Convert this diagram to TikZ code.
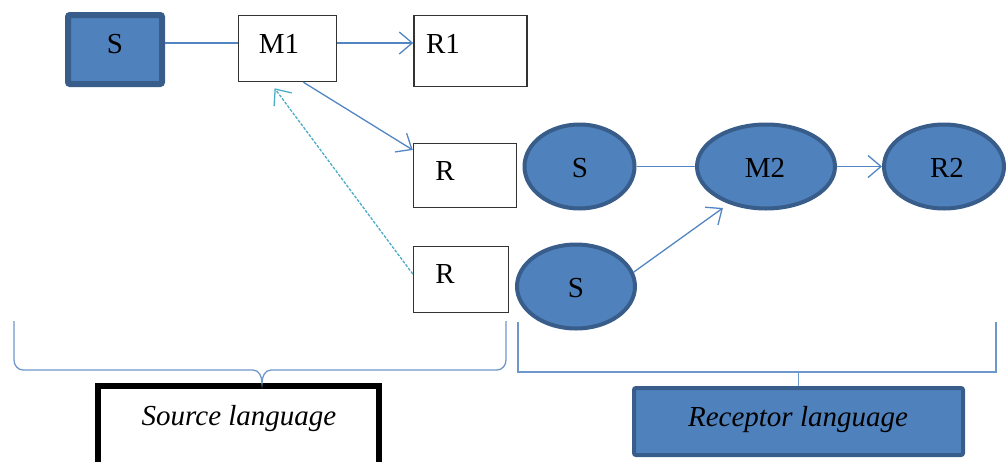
\documentclass[tikz,border=0pt]{standalone}
\usepackage{fontspec}
\setmainfont{Liberation Serif}
\usetikzlibrary{shapes.geometric,arrows.meta,calc}
\definecolor{accent}{HTML}{4F81BD}
\definecolor{accentdark}{HTML}{385D8A}
\definecolor{linkblue}{HTML}{5285C2}
\definecolor{bracecol}{HTML}{6E97CB}
\definecolor{dashcol}{HTML}{4BACC6}
\tikzset{
  lbl/.style={font=\fontsize{29}{31}\selectfont, inner sep=0pt},
  plainbox/.style={draw=black!80, line width=1.5pt, fill=white, inner sep=0pt},
  bluebox/.style={draw=accentdark, fill=accent, rounded corners=2pt, inner sep=0pt},
  blueell/.style={ellipse, draw=accentdark, fill=accent, line width=4pt, inner sep=0pt},
  link/.style={draw=linkblue, line width=1.3pt},
  arrowlink/.style={link, -{Straight Barb[length=13pt,width=22pt,line width=1.3pt]}},
  backlink/.style={draw=dashcol, line width=1.3pt, dash pattern=on 3pt off 1.5pt,
    -{Straight Barb[length=13pt,width=22pt,line width=1.3pt]}},
  bracket/.style={draw=bracecol, line width=1.3pt},
}
\begin{document}
\begin{tikzpicture}[x=1pt,y=-1pt]
\useasboundingbox (0,0) rectangle (1007,461);

% source side boxes
\node[bluebox, line width=6pt, minimum width=94pt, minimum height=69pt] (sbox) at (115,49.5) {};
\node[lbl] (slabel) at (115,44) {S};
\node[plainbox, minimum width=98pt, minimum height=66pt] (m1) at (287.5,48.5) {};
\node[lbl] (m1label) at (279,44) {M1};
\node[plainbox, minimum width=113pt, minimum height=71pt] (r1) at (470.5,51) {};
\node[lbl] (r1label) at (443,44) {R1};
\node[plainbox, minimum width=103pt, minimum height=64pt] (ru) at (465,175.5) {};
\node[lbl] (rulabel) at (445,171) {R};
\node[plainbox, minimum width=95pt, minimum height=66pt] (rl) at (461,279.5) {};
\node[lbl] (rllabel) at (445,274) {R};

% receptor side ellipses
\node[blueell, minimum width=110pt, minimum height=84pt] (su) at (579.5,166.5) {};
\node[lbl] (sulabel) at (580,168) {S};
\node[blueell, minimum width=138pt, minimum height=84pt] (m2) at (766,166.5) {};
\node[lbl] (m2label) at (765,168) {M2};
\node[blueell, minimum width=120pt, minimum height=84pt] (r2) at (944,166.5) {};
\node[lbl] (r2label) at (947,168) {R2};
\node[blueell, minimum width=118pt, minimum height=84pt] (sl) at (576,286.5) {};
\node[lbl] (sllabel) at (576,288) {S};

% language boxes
\node[draw=black, line width=6pt, fill=white, inner sep=0pt, minimum width=281pt, minimum height=84pt] (srclang) at (238.5,428) {};
\node[lbl, font=\fontsize{29}{31}\selectfont\itshape] (srctext) at (239,419) {Source language};
\node[bluebox, line width=4pt, minimum width=329pt, minimum height=67pt] (reclang) at (798.5,421.5) {};
\node[lbl, font=\fontsize{29}{31}\selectfont\itshape] (rectext) at (798,420) {Receptor language};

% connectors
\draw[link] (sbox.east |- 0,43) -- (m1.west |- 0,43);
\draw[arrowlink] (m1.east |- 0,43) -- (r1.west |- 0,43);
\draw[arrowlink] ($(m1.south west)!0.66!(m1.south east)$) -- ($(ru.north west)!0.11!(ru.south west)$);
\draw[backlink] (rl.west |- rllabel) -- ($(m1.south west)!0.37!(m1.south east)+(0,6)$);
\draw[link] (su.east) -- (m2.west);
\draw[arrowlink] (m2.east) -- (r2.west);
\draw[arrowlink, shorten >=7pt] (sl.14) -- (m2.225);

% grouping brace over the source side
\coordinate (bracetip) at (262,383);
\draw[bracket] (14,321) -- (14,360) to[out=-90,in=180] (23,370) -- (253,370)
  to[out=0,in=90] (bracetip) to[out=90,in=180] (271,370) -- (497,370)
  to[out=0,in=-90] (506,360) -- (506,321);
% grouping bracket over the receptor side
\coordinate (bracketstem) at (reclang.north);
\draw[bracket] (518,322) -- (518,372) -- (996,372) -- (996,322);
\draw[bracket] (bracketstem |- 0,372) -- (bracketstem);
\end{tikzpicture}
\end{document}
